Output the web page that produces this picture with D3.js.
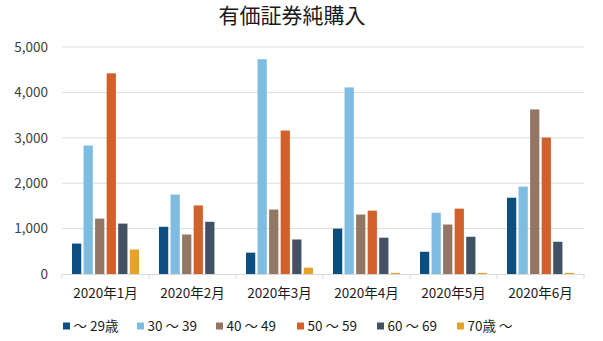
<!DOCTYPE html>
<html>
<head>
<meta charset="utf-8">
<script src="https://cdn.jsdelivr.net/npm/d3@7/dist/d3.min.js"></script>
<style>
  html, body { margin: 0; padding: 0; background: #ffffff; }
  svg { display: block; font-family: "Noto Sans CJK JP", "Noto Sans", sans-serif; }
</style>
</head>
<body>
<div id="chart"></div>
<script>
// Monthly net purchases of securities by age group
const months = ["2020年1月", "2020年2月", "2020年3月", "2020年4月", "2020年5月", "2020年6月"];
const groups = ["～ 29歳", "30 ～ 39", "40 ～ 49", "50 ～ 59", "60 ～ 69", "70歳 ～"];
const colors = ["#0d4e80", "#7fbce2", "#937764", "#d2602a", "#405264", "#e8a229"];

const age29 = [670, 1040, 470, 1000, 490, 1680];
const age30s = [2830, 1750, 4730, 4110, 1350, 1925];
const age40s = [1220, 870, 1420, 1310, 1090, 3625];
const age50s = [4420, 1510, 3160, 1395, 1440, 3005];
const age60s = [1110, 1150, 760, 800, 820, 710];
const age70 = [540, 0, 140, 25, 25, 25];

const yTicks = [0, 1000, 2000, 3000, 4000, 5000];
const series = [age29, age30s, age40s, age50s, age60s, age70];

const W = 603, H = 341;
const margin = { left: 62, right: 19, top: 47, bottom: 67 };

const svg = d3.select("#chart").append("svg")
  .attr("width", W).attr("height", H);

const x0 = d3.scaleBand().domain(months)
  .range([margin.left, W - margin.right]).paddingInner(0).paddingOuter(0);
const edge = x0.bandwidth() * 0.115;
const x1 = d3.scaleBand().domain(d3.range(groups.length))
  .range([edge, x0.bandwidth() - edge]).paddingInner(0.2).paddingOuter(0);
const y = d3.scaleLinear().domain([0, 5000]).range([H - margin.bottom, margin.top]);

// Title
svg.append("text")
  .attr("x", 292).attr("y", 23)
  .attr("text-anchor", "middle")
  .attr("font-size", 21)
  .attr("fill", "#1a1a1a")
  .text("有価証券純購入");

// Horizontal gridlines
svg.append("g").selectAll("line")
  .data(yTicks.filter(d => d > 0))
  .join("line")
  .attr("x1", margin.left).attr("x2", W - margin.right)
  .attr("y1", d => y(d)).attr("y2", d => y(d))
  .attr("stroke", "#dcdde3").attr("stroke-width", 1);

// Y axis labels
const yAxis = svg.append("g")
  .attr("transform", `translate(${margin.left},0)`)
  .call(d3.axisLeft(y).tickValues(yTicks).tickFormat(d3.format(",")).tickSize(0).tickPadding(14));
yAxis.select(".domain").remove();
yAxis.selectAll("text").attr("font-size", 13.5).attr("fill", "#404040")
  .attr("font-family", "'Noto Sans CJK JP', 'Noto Sans', sans-serif");

// Bars
const rows = months.map((m, i) => ({ month: m, values: series.map(s => s[i]) }));
svg.append("g").selectAll("g")
  .data(rows)
  .join("g")
  .attr("transform", d => `translate(${x0(d.month)},0)`)
  .selectAll("rect")
  .data(d => d.values.map((v, k) => ({ k, v })))
  .join("rect")
  .attr("x", d => x1(d.k))
  .attr("width", x1.bandwidth())
  .attr("y", d => y(d.v))
  .attr("height", d => y(0) - y(d.v))
  .attr("fill", d => colors[d.k]);

// X axis with category separators
const xAxis = svg.append("g")
  .attr("transform", `translate(0,${y(0)})`)
  .call(d3.axisBottom(x0).tickSize(0).tickPadding(14));
xAxis.select(".domain").attr("stroke", "#d9d9d9");
xAxis.selectAll("text").attr("font-size", 13.5).attr("fill", "#1a1a1a")
  .attr("font-family", "'Noto Sans CJK JP', 'Noto Sans', sans-serif");
const seps = months.map(m => x0(m)).concat([x0(months[months.length - 1]) + x0.bandwidth()]);
xAxis.selectAll(".sep").data(seps).join("line")
  .attr("class", "sep")
  .attr("x1", d => d).attr("x2", d => d)
  .attr("y1", 0).attr("y2", 5)
  .attr("stroke", "#d9d9d9");

// Legend
const legendX = [63, 137, 216, 297, 377, 457];
const legend = svg.append("g").attr("transform", "translate(0,326)");
const items = legend.selectAll("g").data(groups).join("g")
  .attr("transform", (d, i) => `translate(${legendX[i]},0)`);
items.append("rect").attr("x", 0).attr("y", -3.5).attr("width", 7).attr("height", 7)
  .attr("fill", (d, i) => colors[i]);
items.append("text").attr("x", 10.5).attr("y", 0).attr("dy", "0.36em")
  .attr("font-size", 13.5).attr("fill", "#1a1a1a")
  .text(d => d);
</script>
</body>
</html>
